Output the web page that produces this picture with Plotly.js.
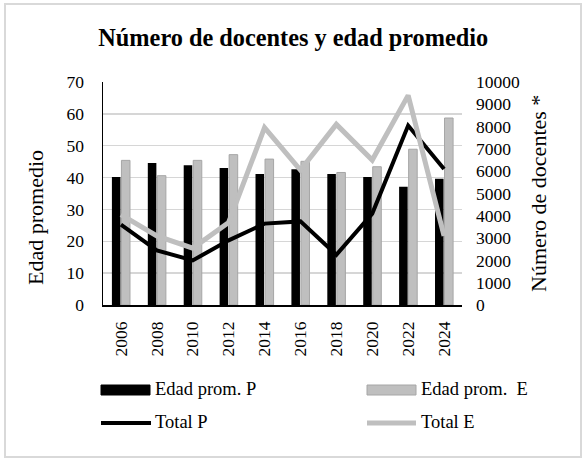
<!DOCTYPE html>
<html>
<head>
<meta charset="utf-8">
<script src="https://cdn.plot.ly/plotly-3.0.1.min.js"></script>
<style>
  html, body { margin: 0; padding: 0; background: #fff; }
  #chart { width: 583px; height: 460px; }
</style>
</head>
<body>
<div id="chart"></div>
<script>
// Años de la serie
const years = ["2006", "2008", "2010", "2012", "2014", "2016", "2018", "2020", "2022", "2024"];

// Edad promedio (eje izquierdo)
const edadP = [40.2, 44.6, 43.9, 43.0, 41.1, 42.6, 41.1, 40.2, 37.1, 39.6];
const edadE = [45.4, 40.6, 45.4, 47.2, 45.8, 45.1, 41.6, 43.4, 48.9, 58.7];

// Número de docentes (eje derecho)
const totalP = [3600, 2450, 2000, 2900, 3650, 3750, 2250, 4100, 8050, 6100];
const totalE = [4050, 3100, 2550, 3700, 7950, 6050, 8100, 6500, 9400, 3100];

// Nombres de las series
const names = ["Edad prom. P", "Edad prom.\u00a0 E", "Total P", "Total E"];

const SERIF = "'Liberation Serif', 'Times New Roman', serif";
const BLACK = "#000000";
const GREY = "#bfbfbf";
const GREY_EDGE = "#a6a6a6";

// Plot-area geometry in pixels (used to place the legend and axis titles)
const W = 583, H = 460;
const L = 103, R = 462, T = 82, B = 305;
const px = x => (x - L) / (R - L);
const py = y => (B - y) / (B - T);

const traces = [
  { type: "bar", x: years, y: edadP, name: names[0], yaxis: "y",
    marker: { color: BLACK, line: { width: 0 } }, showlegend: false },
  { type: "bar", x: years, y: edadE, name: names[1], yaxis: "y",
    marker: { color: GREY, line: { color: GREY_EDGE, width: 1 } }, showlegend: false },
  { type: "scatter", mode: "lines", x: years, y: totalP, name: names[2], yaxis: "y2",
    line: { color: BLACK, width: 4 }, showlegend: false },
  { type: "scatter", mode: "lines", x: years, y: totalE, name: names[3], yaxis: "y2",
    line: { color: GREY, width: 5 }, showlegend: false }
];

// Hand-built legend: 2 x 2 grid of swatches and labels
const shapes = [
  // outer frame
  { type: "rect", xref: "paper", yref: "paper",
    x0: px(5), x1: px(581), y0: py(457), y1: py(4),
    line: { color: "#d9d9d9", width: 2 }, fillcolor: "rgba(0,0,0,0)", layer: "below" },
  // Edad prom. P swatch
  { type: "rect", xref: "paper", yref: "paper",
    x0: px(101), x1: px(150), y0: py(395), y1: py(385),
    fillcolor: BLACK, line: { color: BLACK, width: 1 } },
  // Edad prom. E swatch
  { type: "rect", xref: "paper", yref: "paper",
    x0: px(367), x1: px(416), y0: py(395), y1: py(385),
    fillcolor: GREY, line: { color: GREY_EDGE, width: 1 } },
  // Total P swatch
  { type: "line", xref: "paper", yref: "paper",
    x0: px(101), x1: px(151), y0: py(423), y1: py(423),
    line: { color: BLACK, width: 4 } },
  // Total E swatch
  { type: "line", xref: "paper", yref: "paper",
    x0: px(367), x1: px(416), y0: py(423), y1: py(423),
    line: { color: GREY, width: 5 } }
];

const legendFont = { family: SERIF, size: 18.5, color: BLACK };
const annotations = [
  { text: names[0], xref: "paper", yref: "paper", x: px(153), y: py(389),
    xanchor: "left", yanchor: "middle", showarrow: false, font: legendFont },
  { text: names[1], xref: "paper", yref: "paper", x: px(419), y: py(389),
    xanchor: "left", yanchor: "middle", showarrow: false, font: legendFont },
  { text: names[2], xref: "paper", yref: "paper", x: px(153), y: py(422),
    xanchor: "left", yanchor: "middle", showarrow: false, font: legendFont },
  { text: names[3], xref: "paper", yref: "paper", x: px(419), y: py(422),
    xanchor: "left", yanchor: "middle", showarrow: false, font: legendFont },
  // axis titles
  { text: "Edad promedio", xref: "paper", yref: "paper", x: px(35), y: py(218),
    xanchor: "center", yanchor: "middle", textangle: -90, showarrow: false,
    font: { family: SERIF, size: 22, color: BLACK } },
  { text: "Número de docentes *", xref: "paper", yref: "paper", x: px(538), y: py(194),
    xanchor: "center", yanchor: "middle", textangle: -90, showarrow: false,
    font: { family: SERIF, size: 22, color: BLACK } }
];

const tickFont = { family: SERIF, size: 17.5, color: BLACK };

const layout = {
  width: W, height: H,
  margin: { l: L, r: W - R, t: T, b: H - B, pad: 0 },
  font: { family: SERIF, color: BLACK, size: 17.5 },
  paper_bgcolor: "#ffffff",
  plot_bgcolor: "#ffffff",
  title: {
    text: "<b>Número de docentes y edad promedio</b>",
    font: { family: SERIF, size: 24.3, color: BLACK },
    xref: "container", x: 0.503, xanchor: "center",
    yref: "container", y: 1 - 37 / H, yanchor: "middle"
  },
  barmode: "group",
  bargap: 0.47,
  bargroupgap: 0.1,
  xaxis: {
    type: "category",
    showline: true, linecolor: BLACK, linewidth: 1.5,
    showgrid: false, ticks: "",
    tickangle: -90, tickfont: tickFont,
    ticklabelstandoff: 8,
    fixedrange: true
  },
  yaxis: {
    range: [0, 70], dtick: 10, tick0: 0,
    showline: true, linecolor: BLACK, linewidth: 1.5,
    showgrid: true, gridcolor: "#d6d6d6", gridwidth: 1.5,
    zeroline: false, ticks: "",
    tickfont: tickFont, ticklabelstandoff: 14,
    fixedrange: true
  },
  yaxis2: {
    overlaying: "y", side: "right",
    range: [0, 10000], dtick: 1000, tick0: 0, tickformat: "d",
    showline: false, showgrid: false, zeroline: false, ticks: "",
    tickfont: tickFont, ticklabelstandoff: 13,
    fixedrange: true
  },
  shapes: shapes,
  annotations: annotations,
  showlegend: false
};

Plotly.newPlot("chart", traces, layout, { displayModeBar: false, staticPlot: true });
</script>
</body>
</html>
